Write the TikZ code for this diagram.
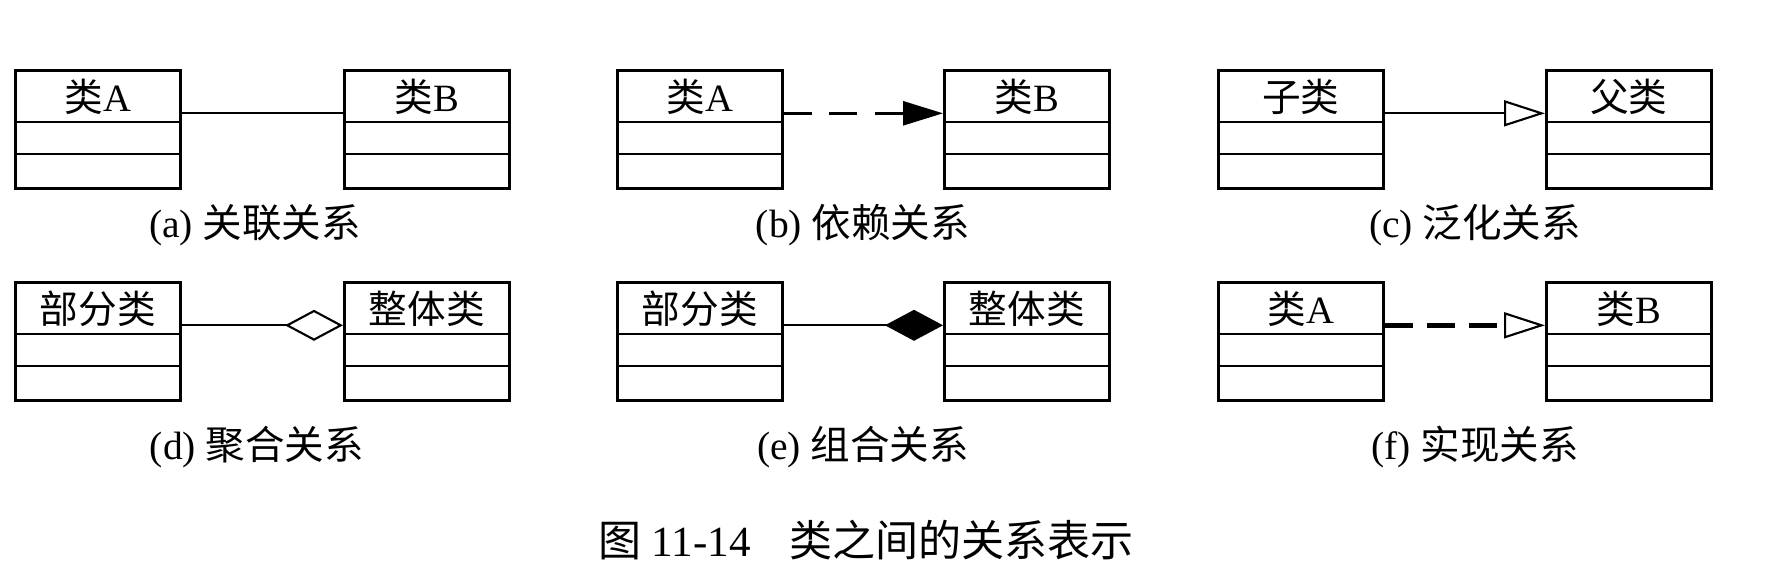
\documentclass[tikz,border=0pt]{standalone}
\usepackage{fontspec}
\setmainfont{Liberation Serif}
\newfontfamily\cjk{Noto Sans CJK SC}
\usetikzlibrary{arrows.meta}

\begin{document}
\begin{tikzpicture}[x=0.02cm, y=-0.02cm,
        classbox/.style={shape=rectangle, draw, line width=1.5pt, anchor=north west,
            minimum width=3.3cm, minimum height=2.36cm, inner sep=0pt},
        classname/.style={font=\fontsize{22}{24}\selectfont, inner sep=0pt},
        subcap/.style={font=\fontsize{22.5}{24}\selectfont, inner sep=0pt},
        rel/.style={line width=1.2pt}]
    \useasboundingbox (0,0) rectangle (1772,588);
    % class boxes
    \foreach \nm/\x/\y/\txt in {a1/14/69/{{\cjk 类}A}, b1/343/69/{{\cjk 类}B},
            a2/616/69/{{\cjk 类}A}, b2/943/69/{{\cjk 类}B},
            a3/1217/69/{\cjk 子类}, b3/1545/69/{\cjk 父类},
            a4/14/281/{\cjk 部分类}, b4/343/281/{\cjk 整体类},
            a5/616/281/{\cjk 部分类}, b5/943/281/{\cjk 整体类},
            a6/1217/281/{{\cjk 类}A}, b6/1545/281/{{\cjk 类}B}} {
        \node[classbox] (\nm) at (\x, \y) {};
        \node[classname] (\nm-t) at ([yshift=-0.56cm]\nm.north) {\txt};
        \draw[line width=1.5pt] ([yshift=-1.06cm]\nm.north west) -- ([yshift=-1.06cm]\nm.north east);
        \draw[line width=1.5pt] ([yshift=-1.70cm]\nm.north west) -- ([yshift=-1.70cm]\nm.north east);
    }
    % relations
    \draw[rel] ([yshift=0.32cm]a1.east) to ([yshift=0.32cm]b1.west);
    \draw[line width=1.5pt, dash pattern=on 16pt off 10pt, -{Triangle[length=0.8cm, width=0.48cm]}]
        ([yshift=0.32cm]a2.east) to ([yshift=0.32cm]b2.west);
    \draw[rel, -{Triangle[open, length=0.82cm, width=0.52cm, fill=white]}]
        ([yshift=0.32cm]a3.east) to ([yshift=0.32cm]b3.west);
    \draw[rel, -{Diamond[open, length=1.16cm, width=0.62cm, fill=white]}]
        ([yshift=0.32cm]a4.east) to ([yshift=0.32cm]b4.west);
    \draw[rel, -{Diamond[length=1.16cm, width=0.62cm]}]
        ([yshift=0.32cm]a5.east) to ([yshift=0.32cm]b5.west);
    \draw[line width=2.6pt, dash pattern=on 16pt off 8pt, -{Triangle[open, line width=1.2pt, length=0.82cm, width=0.52cm, fill=white]}]
        ([yshift=0.32cm]a6.east) to ([yshift=0.32cm]b6.west);
    % captions
    \node[subcap] (capa) at (255, 225) {(a) {\cjk 关联关系}};
    \node[subcap] (capb) at (863, 225) {(b) {\cjk 依赖关系}};
    \node[subcap] (capc) at (1475, 225) {(c) {\cjk 泛化关系}};
    \node[subcap] (capd) at (257, 447) {(d) {\cjk 聚合关系}};
    \node[subcap] (cape) at (863, 447) {(e) {\cjk 组合关系}};
    \node[subcap] (capf) at (1475, 447) {(f) {\cjk 实现关系}};
    \node[font=\fontsize{24.5}{26}\selectfont, inner sep=0pt] (title) at (866, 540)
        {{\cjk 图} 11-14\hspace{0.9em}{\cjk 类之间的关系表示}};
\end{tikzpicture}
\end{document}
